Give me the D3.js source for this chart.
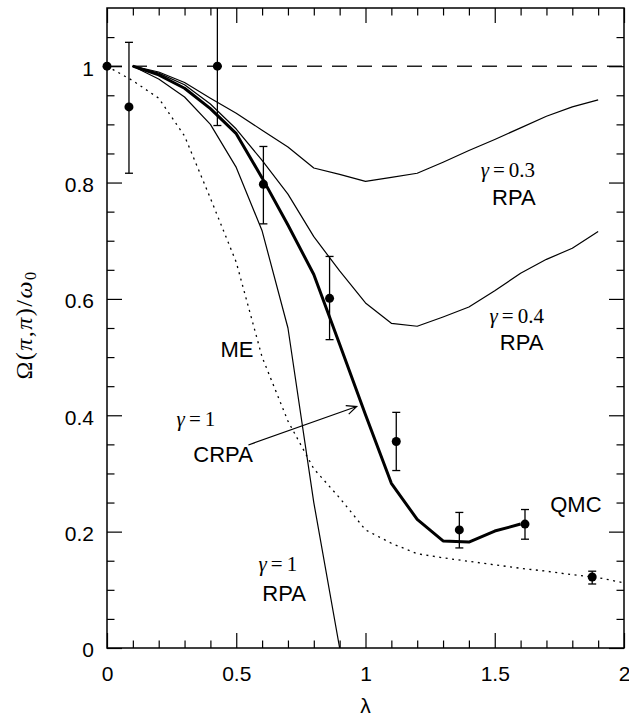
<!DOCTYPE html>
<html>
<head>
<meta charset="utf-8">
<script src="https://cdn.jsdelivr.net/npm/d3@7"></script>
<style>
  body { margin: 0; background: #fff; }
</style>
</head>
<body>
<script>
// values
const lambdaGrid = [0.1, 0.2, 0.3, 0.4, 0.5, 0.6, 0.7, 0.8, 0.9, 1.0,
                    1.1, 1.2, 1.3, 1.4, 1.5, 1.6, 1.7, 1.8, 1.9];
const meLambda = [0, 0.1, 0.2, 0.3, 0.4, 0.5, 0.6, 0.7, 0.8, 0.9, 1.0,
                  1.1, 1.2, 1.3, 1.4, 1.5, 1.6, 1.7, 1.8, 1.9, 2.0];

const rpa03 = [1.0, 0.99, 0.972, 0.945, 0.919, 0.89, 0.861, 0.825, 0.814, 0.802,
               0.809, 0.816, 0.835, 0.855, 0.874, 0.894, 0.914, 0.93, 0.942];
const rpa04 = [1.0, 0.988, 0.968, 0.935, 0.892, 0.838, 0.78, 0.707, 0.648, 0.593,
               0.558, 0.553, 0.569, 0.586, 0.614, 0.644, 0.668, 0.687, 0.716];
const rpa1  = [1.0, 0.978, 0.947, 0.9, 0.826, 0.717, 0.55, 0.25, 0.0];
const crpa1 = [1.0, 0.985, 0.962, 0.927, 0.884, 0.808, 0.727, 0.642, 0.522, 0.401,
               0.283, 0.221, 0.184, 0.182, 0.201, 0.213];
const me    = [1.0, 0.975, 0.945, 0.88, 0.773, 0.663, 0.50, 0.39, 0.308, 0.258, 0.203,
               0.18, 0.162, 0.155, 0.149, 0.143, 0.137, 0.132, 0.126, 0.121, 0.112];

// QMC points with error bars
const qmcLambda = [0, 0.085, 0.427, 0.605, 0.861, 1.119, 1.363, 1.617, 1.877];
const qmcOmega  = [1.0, 0.930, 1.0, 0.797, 0.601, 0.355, 0.203, 0.213, 0.122];
const qmcLow    = [null, 0.816, 0.898, 0.729, 0.530, 0.305, 0.172, 0.187, 0.110];
const qmcHigh   = [null, 1.041, 1.15, 0.862, 0.673, 0.405, 0.233, 0.238, 0.132];

// ticks
const xMajor = [0, 0.5, 1, 1.5, 2];
const yMajor = [0, 0.2, 0.4, 0.6, 0.8, 1];

// annotations: [text, lambda, omega(baseline), kind]
const labels = [
  ["γ", "0.3", 1.551, 0.810],
  ["γ", "0.4", 1.585, 0.559],
  ["γ", "1",   0.344, 0.382],
  ["γ", "1",   0.661, 0.133]
];
const plainLabels = [
  ["RPA",  1.574, 0.762],
  ["RPA",  1.604, 0.512],
  ["ME",   0.503, 0.501],
  ["CRPA", 0.449, 0.320],
  ["QMC",  1.814, 0.233],
  ["RPA",  0.685, 0.080]
];
const arrowFrom = [0.547, 0.349];
const arrowTo   = [0.966, 0.415];

// chart
const svgSize = {width: 629, height: 717};
const margin = {top: 8, right: 5, bottom: 69, left: 107};
const width = svgSize.width - margin.left - margin.right,
      height = svgSize.height - margin.top - margin.bottom;

const sans = "'Liberation Sans', Arial, Helvetica, sans-serif";
const serif = "'Liberation Serif', 'Times New Roman', serif";

const svg = d3.select("body").append("svg")
  .attr("width", svgSize.width)
  .attr("height", svgSize.height);
const g = svg.append("g").attr("transform", `translate(${margin.left},${margin.top})`);

const x = d3.scaleLinear().domain([0, 2]).range([0, width]);
const y = d3.scaleLinear().domain([0, 1.1]).range([height, 0]);

svg.append("defs").append("clipPath").attr("id", "plot")
  .append("rect").attr("width", width).attr("height", height);

const plot = g.append("g").attr("clip-path", "url(#plot)");

// dashed reference at 1
plot.append("line")
  .attr("x1", x(0)).attr("x2", x(2))
  .attr("y1", y(1)).attr("y2", y(1))
  .attr("stroke", "#222").attr("stroke-width", 1.5)
  .attr("stroke-dasharray", "15,10");

const line = d3.line().x(d => x(d[0])).y(d => y(d[1]));
const zipWith = (xs, ys) => ys.map((v, i) => [xs[i], v]);

const curves = [
  {pts: zipWith(meLambda, me), w: 1.3, dash: "2,4.5"},
  {pts: zipWith(lambdaGrid, rpa03), w: 1.2},
  {pts: zipWith(lambdaGrid, rpa04), w: 1.2},
  {pts: zipWith(lambdaGrid, rpa1), w: 1.2},
  {pts: zipWith(lambdaGrid, crpa1), w: 3}
];

plot.selectAll(".curve")
  .data(curves)
  .enter().append("path")
  .attr("class", "curve")
  .attr("d", d => line(d.pts))
  .attr("fill", "none")
  .attr("stroke", "#000")
  .attr("stroke-width", d => d.w)
  .attr("stroke-linejoin", "round")
  .attr("stroke-dasharray", d => d.dash || null);

// error bars
const qmc = qmcLambda.map((l, i) => ({l: l, v: qmcOmega[i], lo: qmcLow[i], hi: qmcHigh[i]}));
const bars = plot.selectAll(".err")
  .data(qmc.filter(d => d.lo !== null))
  .enter().append("g").attr("class", "err")
  .attr("stroke", "#000").attr("stroke-width", 1.3);
bars.append("line")
  .attr("x1", d => x(d.l)).attr("x2", d => x(d.l))
  .attr("y1", d => y(d.lo)).attr("y2", d => y(d.hi));
bars.append("line")
  .attr("x1", d => x(d.l) - 4).attr("x2", d => x(d.l) + 4)
  .attr("y1", d => y(d.lo)).attr("y2", d => y(d.lo));
bars.append("line")
  .attr("x1", d => x(d.l) - 4).attr("x2", d => x(d.l) + 4)
  .attr("y1", d => y(d.hi)).attr("y2", d => y(d.hi));

g.selectAll(".dot")
  .data(qmc)
  .enter().append("circle")
  .attr("class", "dot")
  .attr("cx", d => x(d.l)).attr("cy", d => y(d.v))
  .attr("r", 4.5).attr("fill", "#000");

// labels
labels.forEach(d => {
  const t = g.append("text")
    .attr("x", x(d[2])).attr("y", y(d[3]))
    .attr("text-anchor", "middle")
    .style("font-family", serif).style("font-size", "21px");
  t.append("tspan").style("font-style", "italic").text(d[0]);
  t.append("tspan").attr("dx", 4).text("=");
  t.append("tspan").attr("dx", 4).text(d[1]);
});

plainLabels.forEach(d => {
  g.append("text")
    .attr("x", x(d[1])).attr("y", y(d[2]))
    .attr("text-anchor", "middle")
    .style("font-family", sans).style("font-size", "22px")
    .text(d[0]);
});

// arrow
const ax0 = x(arrowFrom[0]), ay0 = y(arrowFrom[1]),
      ax1 = x(arrowTo[0]), ay1 = y(arrowTo[1]);
const ang = Math.atan2(ay1 - ay0, ax1 - ax0);
const head = 11, spread = 0.42;
g.append("path")
  .attr("d", `M${ax0},${ay0}L${ax1},${ay1}` +
    `M${ax1 - head * Math.cos(ang - spread)},${ay1 - head * Math.sin(ang - spread)}` +
    `L${ax1},${ay1}` +
    `L${ax1 - head * Math.cos(ang + spread)},${ay1 - head * Math.sin(ang + spread)}`)
  .attr("fill", "none").attr("stroke", "#000").attr("stroke-width", 1.2);

// axes: inward ticks on all four sides
const xMinor = d3.range(1, 20).map(i => i / 10).filter(v => Math.abs(v * 2 - Math.round(v * 2)) > 1e-6);
const yMinor = d3.range(1, 22).map(i => i / 20).filter(v => Math.abs(v * 5 - Math.round(v * 5)) > 1e-6);

function styleAxis(sel) {
  sel.select(".domain").remove();
  sel.selectAll("line").attr("stroke", "#000").attr("stroke-width", 1.2);
  sel.selectAll("text").style("font-family", sans).style("font-size", "21px").attr("fill", "#000");
}

g.append("g").attr("transform", `translate(0,${height})`)
  .call(d3.axisBottom(x).tickValues(xMajor).tickSize(-15).tickPadding(18).tickFormat(d => String(d)))
  .call(styleAxis);
g.append("g").attr("transform", `translate(0,${height})`)
  .call(d3.axisBottom(x).tickValues(xMinor).tickSize(-7.5).tickFormat(""))
  .call(styleAxis);
g.append("g")
  .call(d3.axisTop(x).tickValues(xMajor).tickSize(-15).tickFormat(""))
  .call(styleAxis);
g.append("g")
  .call(d3.axisTop(x).tickValues(xMinor).tickSize(-7.5).tickFormat(""))
  .call(styleAxis);

const yAxis = g.append("g")
  .call(d3.axisLeft(y).tickValues(yMajor).tickSize(-15).tickPadding(13).tickFormat(d => String(d)))
  .call(styleAxis);
yAxis.selectAll("text").attr("dy", "0.42em");
g.append("g")
  .call(d3.axisLeft(y).tickValues(yMinor).tickSize(-7.5).tickFormat(""))
  .call(styleAxis);
g.append("g").attr("transform", `translate(${width},0)`)
  .call(d3.axisRight(y).tickValues(yMajor).tickSize(-15).tickFormat(""))
  .call(styleAxis);
g.append("g").attr("transform", `translate(${width},0)`)
  .call(d3.axisRight(y).tickValues(yMinor).tickSize(-7.5).tickFormat(""))
  .call(styleAxis);

// frame
g.append("rect")
  .attr("width", width).attr("height", height)
  .attr("fill", "none").attr("stroke", "#000").attr("stroke-width", 1.5);

// axis titles
g.append("text")
  .attr("x", x(1)).attr("y", height + 65)
  .attr("text-anchor", "middle")
  .style("font-family", sans).style("font-size", "21px")
  .text("λ");

const yt = svg.append("text")
  .attr("transform", `translate(31.5,${margin.top + height / 2 - 3}) rotate(-90)`)
  .attr("text-anchor", "middle")
  .style("font-family", serif).style("font-size", "24px")
  .style("letter-spacing", "1.5px");
yt.append("tspan").text("Ω(");
yt.append("tspan").style("font-style", "italic").text("π");
yt.append("tspan").text(",");
yt.append("tspan").style("font-style", "italic").text("π");
yt.append("tspan").text(")/");
yt.append("tspan").style("font-style", "italic").text("ω");
yt.append("tspan").attr("dy", 4).style("font-size", "16px").text("0");
</script>
</body>
</html>
